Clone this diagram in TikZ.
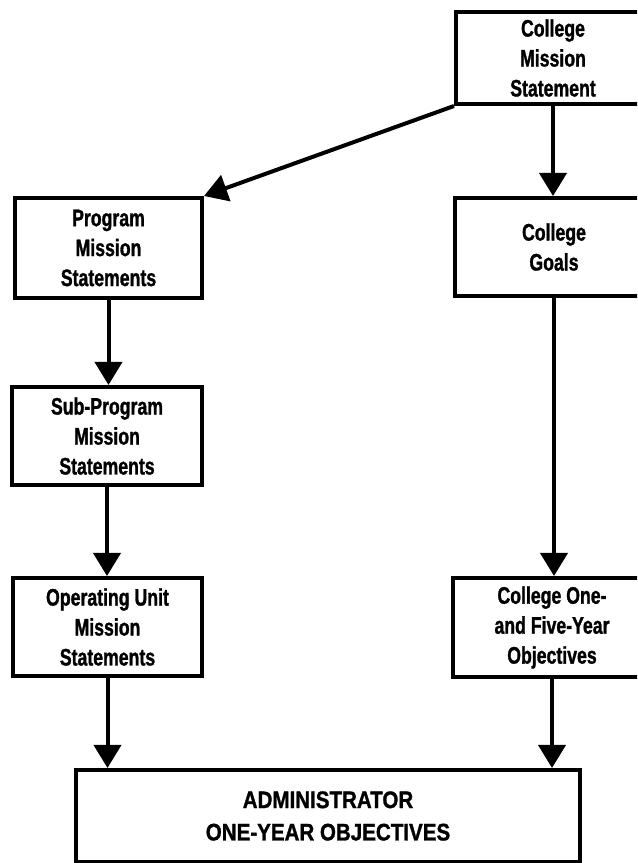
\documentclass[tikz,border=0pt]{standalone}
\usepackage{fontspec}
\setmainfont{Liberation Sans}[FakeStretch=0.74, FakeBold=1.2]
\newfontfamily\adminfont{Liberation Sans}[FakeStretch=0.86, FakeBold=1.2]
\usetikzlibrary{arrows.meta}

\begin{document}
\begin{tikzpicture}[x=0.25mm, y=-0.25mm,
    every node/.style={rectangle, draw, line width=1mm, inner sep=0pt, align=center,
        font=\bfseries\fontsize{17}{21.3}\selectfont},
    arr/.style={line width=1mm, -{Triangle[length=5.8mm, width=6.8mm]}}]

    \useasboundingbox (0,0) rectangle (637,863);
    \clip (0,0) rectangle (637,863);

    % Caselle
    \node[minimum width=48.5mm, minimum height=23mm] (cms) at (553,58) {College\\Mission\\Statement};
    \node[minimum width=46.75mm, minimum height=25mm] (pms) at (108.5,248) {Program\\Mission\\Statements};
    \node[minimum width=49.5mm, minimum height=24.5mm] (goals) at (554,247) {College\\Goals};
    \node[minimum width=47.5mm, minimum height=24.5mm] (sms) at (107,436) {Sub-Program\\Mission\\Statements};
    \node[minimum width=47.25mm, minimum height=24.5mm] (ums) at (107.5,627) {Operating Unit\\Mission\\Statements};
    \node[minimum width=49.5mm, minimum height=24.75mm] (cobj) at (552,627.5) {College One-\\and Five-Year\\Objectives};
    \node[minimum width=126mm, minimum height=23mm, font=\adminfont\bfseries\fontsize{17}{23}\selectfont] (admin) at (328,816) {ADMINISTRATOR\\ONE-YEAR OBJECTIVES};

    % Frecce
    \draw[arr] (cms.south west) -- (pms.north east);
    \draw[arr] (cms.south) -- (cms.south |- goals.north);
    \draw[arr] (goals.south) -- (goals.south |- cobj.north);
    \draw[arr] (pms.south) -- (pms.south |- sms.north);
    \draw[arr] (sms.south) -- (sms.south |- ums.north);
    \draw[arr] (ums.south) -- (ums.south |- admin.north);
    \draw[arr] (cobj.south) -- (cobj.south |- admin.north);
\end{tikzpicture}
\end{document}
